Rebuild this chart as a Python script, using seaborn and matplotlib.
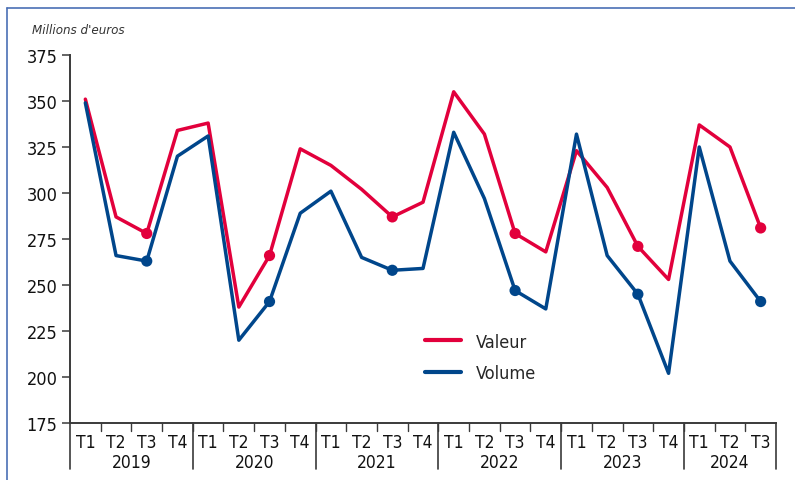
import numpy as np
import pandas as pd
import matplotlib
matplotlib.use("Agg")
import matplotlib.pyplot as plt
from matplotlib.lines import Line2D
import seaborn as sns

# Data (millions d'euros)
years = ["2019", "2020", "2021", "2022", "2023", "2024"]
quarters = ["T1", "T2", "T3", "T4"] * 5 + ["T1", "T2", "T3"]
valeur = [351, 287, 278, 334, 338, 238, 266, 324, 315, 302, 287, 295,
          355, 332, 278, 268, 323, 303, 271, 253, 337, 325, 281]
volume = [349, 266, 263, 320, 331, 220, 241, 289, 301, 265, 258, 259,
          333, 297, 247, 237, 332, 266, 245, 202, 325, 263, 241]

RED = "#E2003C"
BLUE = "#00468B"
AXC = "#3a3a3a"

sns.set_theme(style="white")
plt.rcParams["font.family"] = ["DejaVu Sans"]
plt.rcParams["font.stretch"] = "condensed"

n = len(quarters)
pos = np.arange(n)
df = pd.DataFrame({
    "pos": np.concatenate([pos, pos]),
    "val": valeur + volume,
    "serie": ["Valeur"] * n + ["Volume"] * n,
    "q": quarters + quarters,
})

fig = plt.figure(figsize=(7.95, 4.81), dpi=100)
ax = fig.add_axes([70 / 795, 57 / 481, 706 / 795, 368 / 481])

sns.lineplot(data=df, x="pos", y="val", hue="serie",
             palette={"Valeur": RED, "Volume": BLUE},
             linewidth=2.5, ax=ax, legend=False)
t3 = df[df["q"] == "T3"]
sns.scatterplot(data=t3, x="pos", y="val", hue="serie",
                palette={"Valeur": RED, "Volume": BLUE},
                s=65, edgecolor="none", ax=ax, legend=False, zorder=3)

ax.set_xlim(-0.5, n - 0.5)
ax.set_ylim(175, 375)
ax.set_yticks(range(175, 376, 25))
ax.set_xticks(pos)
ax.set_xticklabels(quarters)
ax.set_xlabel("")
ax.set_ylabel("")

for s in ["top", "right"]:
    ax.spines[s].set_visible(False)
for s in ["left", "bottom"]:
    ax.spines[s].set_color(AXC)
    ax.spines[s].set_linewidth(1.4)

ax.tick_params(axis="y", direction="out", length=6, width=1.1, color=AXC,
               labelsize=13, pad=3, left=True)
ax.tick_params(axis="x", length=0, labelsize=12.5, pad=7)
for lab in ax.get_xticklabels() + ax.get_yticklabels():
    lab.set_color("#111111")

trans = ax.get_xaxis_transform()
# short separators between quarters
for x in pos[:-1] + 0.5:
    ax.plot([x, x], [0, -0.022], transform=trans, color=AXC, lw=1.0,
            clip_on=False)
# long separators between years
bounds = [-0.5] + [i + 3.5 for i in range(0, n, 4)]
bounds = sorted(set(b for b in bounds if b <= n - 0.5) | {n - 0.5})
for x in bounds:
    ax.plot([x, x], [0, -0.125], transform=trans, color=AXC, lw=1.2,
            clip_on=False)
# year labels
for i, yr in enumerate(years):
    start = i * 4
    end = min(start + 3, n - 1)
    ax.text((start + end) / 2, -0.105, yr, transform=trans, ha="center",
            va="center", fontsize=12.5, color="#111111")

fig.text(32 / 795, 1 - 30 / 481, "Millions d'euros", fontsize=9.5,
         style="italic", color="#333333", va="center", ha="left")

handles = [Line2D([], [], color=RED, lw=3), Line2D([], [], color=BLUE, lw=3)]
ax.legend(handles, ["Valeur", "Volume"], loc="upper left",
          bbox_to_anchor=(0.48, 0.29), frameon=False, fontsize=13,
          handlelength=2.0, labelspacing=0.75, handletextpad=0.8)

# thin frame on the left and top
fig.add_artist(Line2D([7 / 795, 7 / 795], [0, 1 - 9 / 481],
                      color="#4a6fb5", lw=1.2, transform=fig.transFigure))
fig.add_artist(Line2D([7 / 795, 1], [1 - 9 / 481, 1 - 9 / 481],
                      color="#4a6fb5", lw=1.2, transform=fig.transFigure))

fig.savefig("out.png", dpi=100)
